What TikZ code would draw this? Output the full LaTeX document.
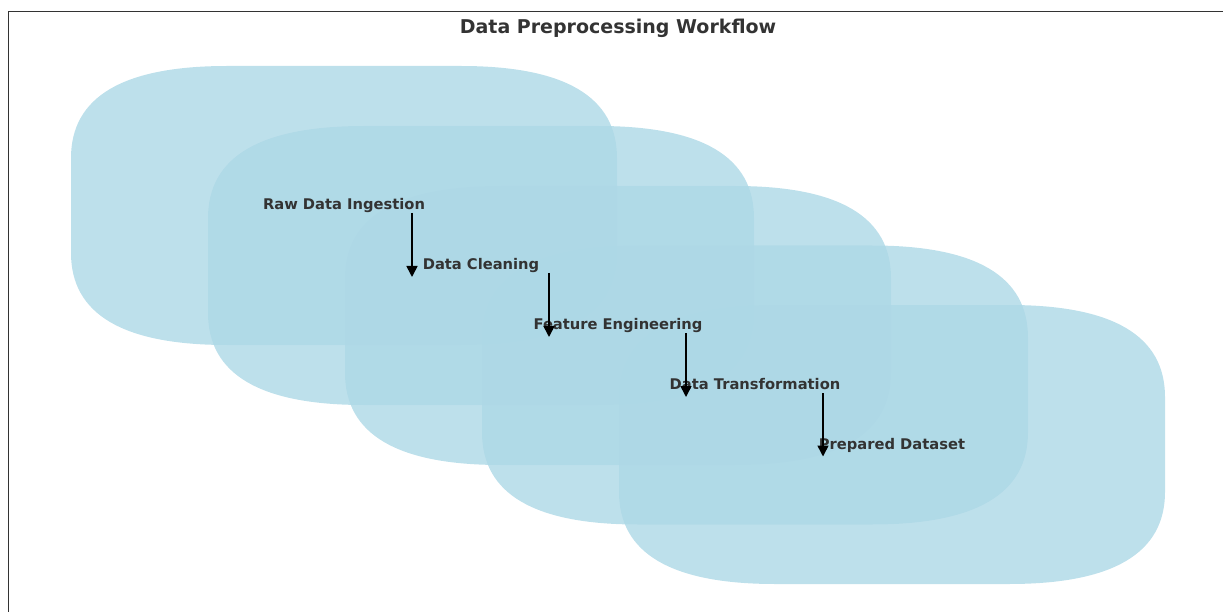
\documentclass[tikz,border=0pt]{standalone}
\usepackage{fontspec}
\setmainfont{DejaVu Sans}
\usetikzlibrary{arrows.meta}
\definecolor{blobfill}{HTML}{ADD8E6}
\definecolor{txt}{HTML}{333333}
\newcommand\blobshape[2]{%
  \fill[blobstyle]
    ({#1-273+156},{#2-139.5}) -- ({#1+273-156},{#2-139.5})
    .. controls ({#1+273-52},{#2-139.5}) and ({#1+273},{#2-139.5+30.7}) .. ({#1+273},{#2-139.5+92})
    -- ({#1+273},{#2+139.5-92})
    .. controls ({#1+273},{#2+139.5-30.7}) and ({#1+273-52},{#2+139.5}) .. ({#1+273-156},{#2+139.5})
    -- ({#1-273+156},{#2+139.5})
    .. controls ({#1-273+52},{#2+139.5}) and ({#1-273},{#2+139.5-30.7}) .. ({#1-273},{#2+139.5-92})
    -- ({#1-273},{#2-139.5+92})
    .. controls ({#1-273},{#2-139.5+30.7}) and ({#1-273+52},{#2-139.5}) .. cycle;}
\begin{document}
\begin{tikzpicture}[x=1pt,y=-1pt,
  blobstyle/.style={fill=blobfill,fill opacity=0.8},
  lbl/.style={font=\fontsize{14.7}{17}\selectfont\bfseries,text=txt,inner sep=0pt,text height=0.73em,text depth=0pt},
  arr/.style={draw=black,line width=1.6pt,-{Triangle[length=11pt,width=11pt]}}]
\useasboundingbox (0,0) rectangle (1223,612);
\draw[txt,line width=1.4pt] (1230,11.5) -- (8.5,11.5) -- (8.5,620);
\node[font=\fontsize{19}{22}\selectfont\bfseries,text=txt,inner sep=0pt,text height=0.73em,text depth=0pt] (title) at (618,29.5) {Data Preprocessing Workflow};
\blobshape{344}{205.5}
\blobshape{481}{265.5}
\blobshape{618}{325.5}
\blobshape{755}{385}
\blobshape{892}{444.5}
\node[lbl] (a) at (344,206) {Raw Data Ingestion};
\node[lbl] (b) at (481,266) {Data Cleaning};
\node[lbl] (c) at (618,326) {Feature Engineering};
\node[lbl] (d) at (755,386) {Data Transformation};
\node[lbl] (e) at (892,445.5) {Prepared Dataset};
\draw[arr] ([xshift=68pt,yshift=-7pt]a.center) -- ([xshift=-69pt,yshift=-11pt]b.center);
\draw[arr] ([xshift=68pt,yshift=-7pt]b.center) -- ([xshift=-69pt,yshift=-11pt]c.center);
\draw[arr] ([xshift=68pt,yshift=-7pt]c.center) -- ([xshift=-69pt,yshift=-11pt]d.center);
\draw[arr] ([xshift=68pt,yshift=-7pt]d.center) -- ([xshift=-69pt,yshift=-11pt]e.center);
\end{tikzpicture}
\end{document}
